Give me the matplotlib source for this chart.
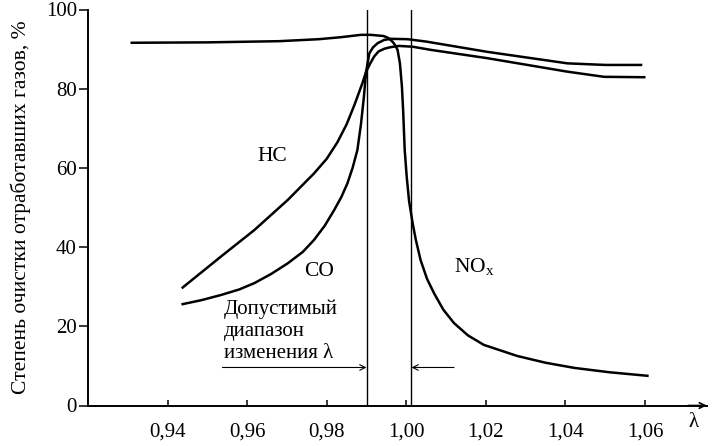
import matplotlib
matplotlib.use('Agg')
import matplotlib.pyplot as plt

# шрифт похожий на Times
plt.rcParams['font.family'] = ['Liberation Serif', 'DejaVu Serif']
plt.rcParams['mathtext.fontset'] = 'custom'
plt.rcParams['mathtext.rm'] = 'Liberation Serif'

# кривые (λ, степень очистки %)
nox_lam = [0.931, 0.950, 0.968, 0.978, 0.9835, 0.9886, 0.9911, 0.9943, 0.9955, 0.9965,
           0.9972, 0.9978, 0.9984, 0.9989, 0.9992, 0.9996, 1.0001, 1.0007, 1.0016, 1.0024,
           1.0036, 1.0052, 1.0070, 1.0093, 1.0120, 1.0155, 1.0195, 1.0279, 1.0350, 1.0422,
           1.0510, 1.0606]
nox_val = [91.6, 91.7, 92.0, 92.5, 93.0, 93.6, 93.6, 93.3, 92.8, 91.9,
           91.0, 89.8, 86.4, 80.5, 74.6, 64.5, 57.8, 51.6, 46.0, 41.8,
           36.7, 32.0, 28.3, 24.2, 20.8, 17.7, 15.3, 12.5, 10.8, 9.5,
           8.4, 7.5]

co_lam = [0.9438, 0.9485, 0.9534, 0.9580, 0.9618, 0.9660, 0.9702, 0.9740, 0.9768, 0.9795,
          0.9819, 0.9837, 0.9852, 0.9865, 0.9877, 0.9886, 0.9893, 0.9899, 0.9907, 0.9916,
          0.9928, 0.9944, 0.9961, 1.0003, 1.0050, 1.0204, 1.0405, 1.0500, 1.0590]
co_val = [25.6, 26.6, 27.9, 29.3, 30.9, 33.2, 35.9, 38.8, 41.8, 45.4,
          49.4, 52.7, 56.1, 60.0, 64.5, 71.0, 77.5, 84.3, 88.9, 90.4,
          91.5, 92.3, 92.6, 92.5, 91.9, 89.3, 86.4, 86.0, 86.0]

hc_lam = [0.9438, 0.9534, 0.9618, 0.9702, 0.9768, 0.9800, 0.9827, 0.9850, 0.9870, 0.9890,
          0.9899, 0.9910, 0.9919, 0.9930, 0.9945, 0.9961, 0.9982, 1.0016, 1.0062, 1.0204,
          1.0405, 1.0497, 1.0598]
hc_val = [29.8, 37.6, 44.3, 51.9, 58.6, 62.3, 66.5, 71.0, 76.0, 81.5,
          84.3, 86.5, 88.1, 89.4, 90.1, 90.5, 90.8, 90.6, 89.8, 87.7,
          84.3, 83.0, 82.9]

# допустимый диапазон λ
range_lo = 0.990
range_hi = 1.0013

xticks = [0.94, 0.96, 0.98, 1.00, 1.02, 1.04, 1.06]
xtick_labels = ['0,94', '0,96', '0,98', '1,00', '1,02', '1,04', '1,06']
yticks = [0, 20, 40, 60, 80, 100]

fig = plt.figure(figsize=(7.2, 4.46), dpi=100)
ax = fig.add_axes([88 / 720, 40.5 / 446, 618.7 / 720, 396 / 446])

ax.plot(nox_lam, nox_val, 'k-', lw=1.8)
ax.plot(co_lam, co_val, 'k-', lw=1.8)
ax.plot(hc_lam, hc_val, 'k-', lw=1.8)

ax.axvline(range_lo, color='k', lw=1.0)
ax.axvline(range_hi, color='k', lw=1.0)

# стрелки диапазона
ax.annotate('', xy=(range_lo, 9.6), xytext=(0.9538, 9.6),
            arrowprops=dict(arrowstyle='->', lw=0.8, color='k', shrinkA=0, shrinkB=0))
ax.annotate('', xy=(range_hi, 9.6), xytext=(1.012, 9.6),
            arrowprops=dict(arrowstyle='->', lw=0.8, color='k', shrinkA=0, shrinkB=0))

ax.set_xlim(0.92, 1.0755)
ax.set_ylim(0, 100)
ax.spines['top'].set_visible(False)
ax.spines['right'].set_visible(False)
ax.spines['left'].set_linewidth(1.4)
ax.spines['bottom'].set_linewidth(1.4)

# стрелка оси λ
ax.annotate('', xy=(1.0, 0), xytext=(0.97, 0), xycoords='axes fraction',
            arrowprops=dict(arrowstyle='->', lw=1.2, color='k', shrinkA=0, shrinkB=0))

ax.set_xticks(xticks)
ax.set_xticklabels(xtick_labels)
ax.set_yticks(yticks)
ax.tick_params(axis='x', direction='in', length=4.5, width=1.1, pad=12, labelsize=15)
ax.tick_params(axis='y', direction='out', length=6.5, width=1.1, pad=1.5, labelsize=15)

ax.set_ylabel('Степень очистки отработавших газов, %', fontsize=15.5)
ax.yaxis.set_label_coords(-0.092, 0.5)

ax.text(1.0722, -4.4, 'λ', ha='center', va='center', fontsize=15)

ax.text(0.9662, 62.8, 'HC', ha='center', va='center', fontsize=15.5)
ax.text(0.978, 33.8, 'CO', ha='center', va='center', fontsize=15.5)
ax.text(1.012, 34.8, 'NO$_\\mathrm{x}$', ha='left', va='center', fontsize=15.5)
ax.text(0.9542, 26.8, 'Допустимый\nдиапазон\nизменения λ', ha='left', va='top',
        fontsize=15, linespacing=1.23)

fig.savefig('out.png', dpi=100)
